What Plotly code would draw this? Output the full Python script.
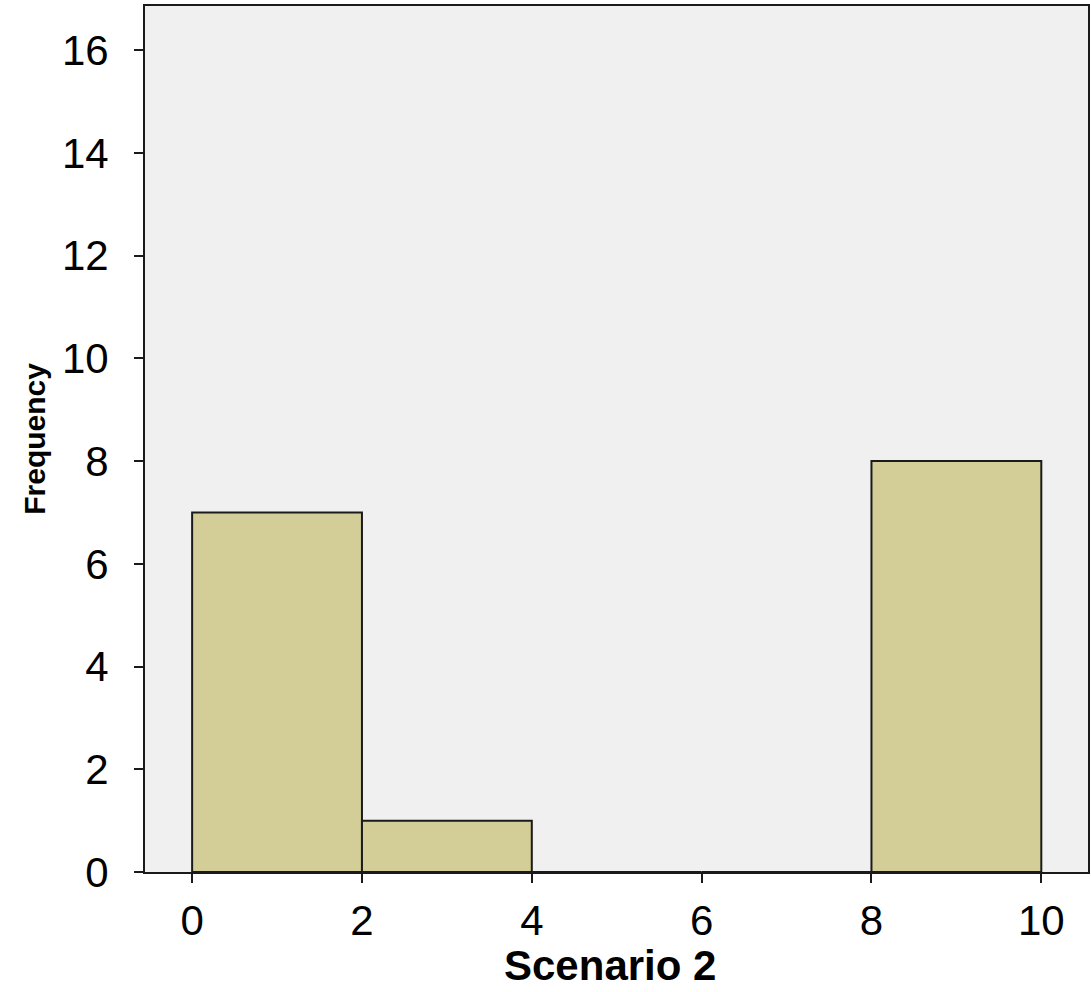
import plotly.graph_objects as go

# Histogram data
bin_edges = [0, 2, 4, 6, 8, 10]
counts = [7, 1, 0, 0, 8]
x_ticks = [0, 2, 4, 6, 8, 10]
y_ticks = [0, 2, 4, 6, 8, 10, 12, 14, 16]
x_title = "Scenario 2"
y_title = "Frequency"

centers = [(bin_edges[i] + bin_edges[i + 1]) / 2 for i in range(len(counts))]
widths = [bin_edges[i + 1] - bin_edges[i] for i in range(len(counts))]

FONT = "Arial, 'Liberation Sans', sans-serif"

fig = go.Figure(
    go.Bar(
        x=centers,
        y=counts,
        width=widths,
        marker=dict(color="#d3ce97", line=dict(color="#1a1a1a", width=2)),
        hoverinfo="x+y",
    )
)

fig.update_layout(
    width=1091,
    height=992,
    margin=dict(l=145, r=3, t=6, b=120),
    paper_bgcolor="white",
    plot_bgcolor="#f0f0f0",
    showlegend=False,
    font=dict(family=FONT, color="black"),
    annotations=[
        dict(text="<b>" + y_title + "</b>", xref="paper", yref="paper",
             x=-0.118, y=0.5, xanchor="center", yanchor="middle",
             textangle=-90, showarrow=False, font=dict(size=30, family=FONT)),
        dict(text="<b>" + x_title + "</b>", xref="paper", yref="paper",
             x=0.4926, y=-0.1375, xanchor="center", yanchor="bottom",
             showarrow=False, font=dict(size=42, family=FONT)),
    ],
)

fig.update_xaxes(
    range=[-0.555, 10.55],
    tickvals=x_ticks,
    ticks="outside",
    ticklen=9,
    tickwidth=1.8,
    tickcolor="#1a1a1a",
    tickfont=dict(size=42, family=FONT),
    ticklabelstandoff=2,
    showline=True,
    mirror=True,
    linecolor="#1a1a1a",
    linewidth=2,
    showgrid=False,
    zeroline=False,
    automargin=False,
)

fig.update_yaxes(
    range=[0, 16.86],
    tickvals=y_ticks,
    ticks="outside",
    ticklen=9,
    tickwidth=1.8,
    tickcolor="#1a1a1a",
    tickfont=dict(size=42, family=FONT),
    ticklabelstandoff=17,
    showline=True,
    mirror=True,
    linecolor="#1a1a1a",
    linewidth=2,
    showgrid=False,
    zeroline=False,
    automargin=False,
)

fig.write_html(
    "out.html",
    config={"displayModeBar": False},
    post_script="document.body.style.margin='0';document.body.style.overflow='hidden';",
)
